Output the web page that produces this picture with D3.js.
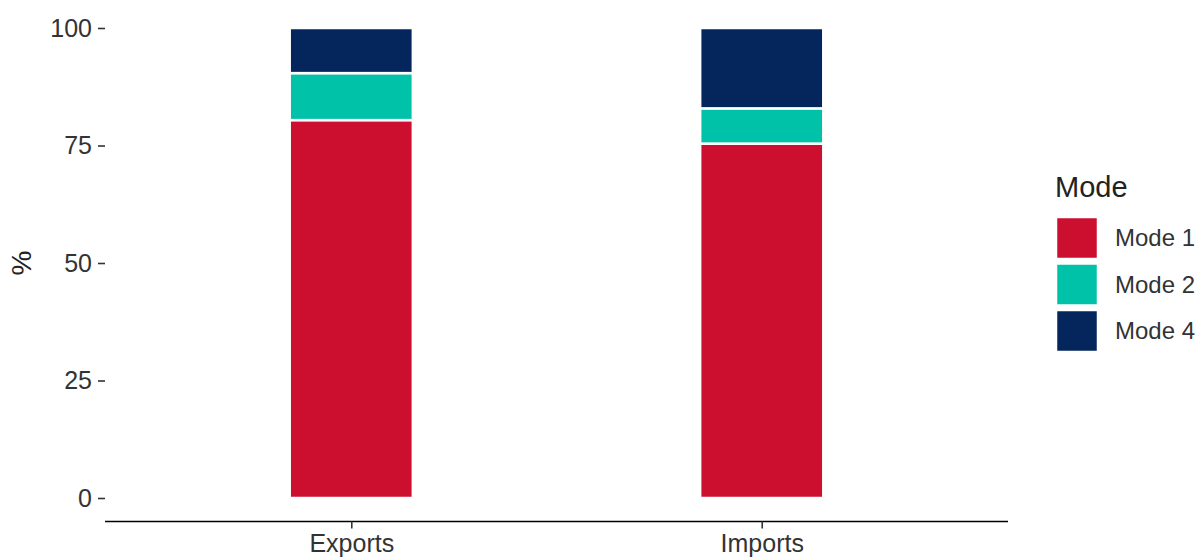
<!DOCTYPE html>
<html>
<head>
<meta charset="utf-8">
<script src="https://cdn.jsdelivr.net/npm/d3@7"></script>
<style>
  body { margin: 0; background: #fff; }
  svg { display: block; font-family: "Liberation Sans", Arial, sans-serif; }
</style>
</head>
<body>
<svg id="chart" width="1195" height="560"></svg>
<script>
// ---- data ----
const categories = ["Exports", "Imports"];
const modes = ["Mode 1", "Mode 2", "Mode 4"];
const mode1 = [80.4, 75.4];
const mode2 = [10.0, 7.5];
const mode4 = [9.6, 17.1];
const modeColors = ["#CC0F2E", "#00C2A8", "#04265C"];
const yTicks = [0, 25, 50, 75, 100];
const legendTitle = "Mode";
const yTitle = "%";

// ---- layout ----
const W = 1195, H = 560;
const panel = { left: 105, right: 1008, top: 4.5, bottom: 521.5 };
const svg = d3.select("#chart");

const x = d3.scalePoint().domain(categories).range([panel.left, panel.right]).padding(0.6);
const y = d3.scaleLinear().domain([-5, 105]).range([panel.bottom, panel.top]);
const color = d3.scaleOrdinal().domain(modes).range(modeColors);

const rows = categories.map((c, i) => ({ cat: c, "Mode 1": mode1[i], "Mode 2": mode2[i], "Mode 4": mode4[i] }));
const stacked = d3.stack().keys(modes)(rows);
const bw = 0.3 * x.step();

// bars
svg.append("g").selectAll("g").data(stacked).join("g")
  .attr("fill", d => color(d.key))
  .selectAll("rect").data(d => d).join("rect")
  .attr("x", d => x(d.data.cat) - bw / 2)
  .attr("width", bw)
  .attr("y", d => y(d[1]))
  .attr("height", d => y(d[0]) - y(d[1]))
  .attr("stroke", "#fff")
  .attr("stroke-width", 2.5);

// x axis
const gx = svg.append("g").attr("transform", `translate(0,${panel.bottom})`)
  .call(d3.axisBottom(x).tickSize(7).tickSizeOuter(0).tickPadding(6));
gx.select(".domain").attr("stroke", "#000").attr("stroke-width", 1.6)
  .attr("d", `M${panel.left},0H${panel.right}`);
gx.selectAll(".tick line").attr("stroke", "#333").attr("stroke-width", 1.6);
gx.selectAll(".tick text").attr("font-size", 25).attr("fill", "#333")
  .attr("font-family", "Liberation Sans, Arial, sans-serif").attr("dy", "0.71em");

// y axis
const gy = svg.append("g").attr("transform", `translate(${panel.left},0)`)
  .call(d3.axisLeft(y).tickValues(yTicks).tickSize(7).tickPadding(6));
gy.select(".domain").remove();
gy.selectAll(".tick line").attr("stroke", "#333").attr("stroke-width", 1.6);
gy.selectAll(".tick text").attr("font-size", 25).attr("fill", "#333")
  .attr("font-family", "Liberation Sans, Arial, sans-serif");

// y title
svg.append("text")
  .attr("transform", `translate(31,263) rotate(-90)`)
  .attr("text-anchor", "middle")
  .attr("font-size", 28).attr("fill", "#222")
  .text(yTitle);

// legend
const lg = svg.append("g").attr("transform", "translate(1055,0)");
lg.append("text").attr("x", 0).attr("y", 197).attr("font-size", 29).attr("fill", "#222").text(legendTitle);
const items = lg.selectAll("g.item").data(modes).join("g").attr("class", "item")
  .attr("transform", (d, i) => `translate(0,${216 + i * 46.5})`);
items.append("rect").attr("x", 1).attr("y", 1).attr("width", 42).attr("height", 42)
  .attr("fill", d => color(d)).attr("stroke", "#fff").attr("stroke-width", 2.5);
items.append("text").attr("x", 60).attr("y", 22).attr("dy", "0.35em")
  .attr("font-size", 24).attr("fill", "#333").text(d => d);
</script>
</body>
</html>
